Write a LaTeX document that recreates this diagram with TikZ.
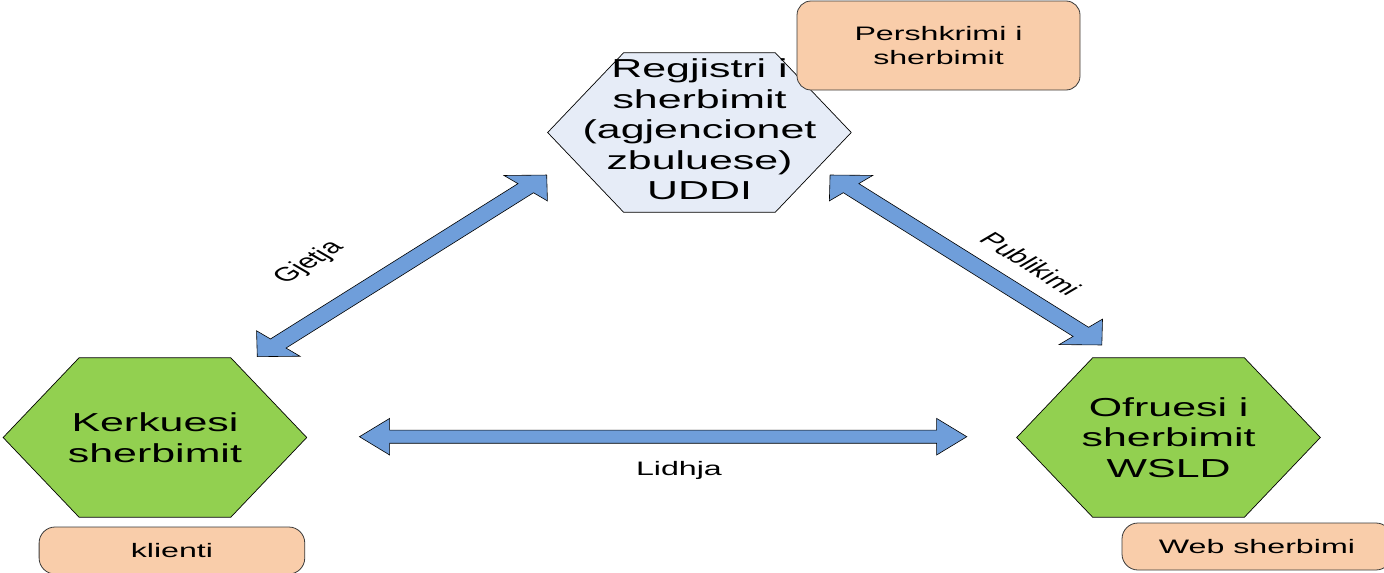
\documentclass[tikz,border=0pt]{standalone}
\usepackage{fontspec}
\setmainfont{Liberation Sans}
\usetikzlibrary{shapes.geometric,shapes.arrows,calc}

\definecolor{hexblue}{HTML}{E6ECF7}
\definecolor{hexgreen}{HTML}{92D050}
\definecolor{peach}{HTML}{F9CDAA}
\definecolor{arrowblue}{HTML}{6F9EDA}
\definecolor{edge}{HTML}{3A3A3A}

\begin{document}
\begin{tikzpicture}[x=1pt,y=1pt,xscale=1.65,transform shape,
  hexagon/.style={regular polygon, regular polygon sides=6, minimum size=184pt,
    inner sep=0pt, draw=black, line width=0.7pt},
  hexlabel/.style={align=center, inner sep=0pt, font=\fontsize{26}{30.5}\selectfont},
  note/.style={draw=edge, fill=peach, line width=0.8pt, rounded corners=14pt,
    inner sep=0pt, align=center, font=\fontsize{19.5}{23.5}\selectfont},
  link/.style={double arrow, double arrow tip angle=90,
    double arrow head extend=11.75pt, inner xsep=0pt, inner ysep=6.25pt,
    fill=arrowblue, draw=black, line width=0.6pt},
  linklabel/.style={inner sep=0pt, font=\fontsize{19.5}{23.5}\selectfont}]

\useasboundingbox (0,0) rectangle (838.8,-573);

% end points of the three links
\coordinate (find-a) at (155.9,-356.7);
\coordinate (find-b) at (331.3,-175);
\coordinate (pub-a)  at (503,-175);
\coordinate (pub-b)  at (667.7,-345);
\coordinate (bind-a) at (217.8,-436.7);
\coordinate (bind-b) at (585.9,-436.7);

% block arrows
\node[link, minimum height=252.5pt, rotate=46.0]  (find) at ($(find-a)!0.5!(find-b)$) {};
\node[link, minimum height=236.7pt, rotate=-45.9] (pub)  at ($(pub-a)!0.5!(pub-b)$) {};
\node[link, minimum height=368.1pt]               (bind) at ($(bind-a)!0.5!(bind-b)$) {};

% arrow labels
\node[linklabel, rotate=46.0]  (find-label) at (187.3,-263) {Gjetja};
\node[linklabel, rotate=-45.9] (pub-label)  at (624.7,-264) {Publikimi};
\node[linklabel]               (bind-label) at (411.5,-470) {Lidhja};

% the three roles
\node[hexagon, fill=hexblue]  (registry) at (423.9,-132.5) {};
\node[hexlabel] (registry-text) at ([yshift=3pt]registry.center)
  {Regjistri i\\sherbimit\\(agjencionet\\zbuluese)\\UDDI};

\node[hexagon, fill=hexgreen] (requester) at (93.9,-437.5) {};
\node[hexlabel] (requester-text) at (requester.center) {Kerkuesi\\sherbimit};

\node[hexagon, fill=hexgreen] (provider) at (708.2,-437.5) {};
\node[hexlabel] (provider-text) at (provider.center) {Ofruesi i\\sherbimit\\WSLD};

% notes
\node[note, minimum width=171.5pt, minimum height=89pt] (desc) at (568.8,-45.5)
  {Pershkrimi i\\sherbimit};
\node[note, rounded corners=16pt, minimum width=161pt, minimum height=47pt] (client)
  at (104.2,-550.5) {klienti};
\node[note, rounded corners=16pt, minimum width=163.6pt, minimum height=47pt] (websvc)
  at (761.8,-546.5) {Web sherbimi};

\end{tikzpicture}
\end{document}
